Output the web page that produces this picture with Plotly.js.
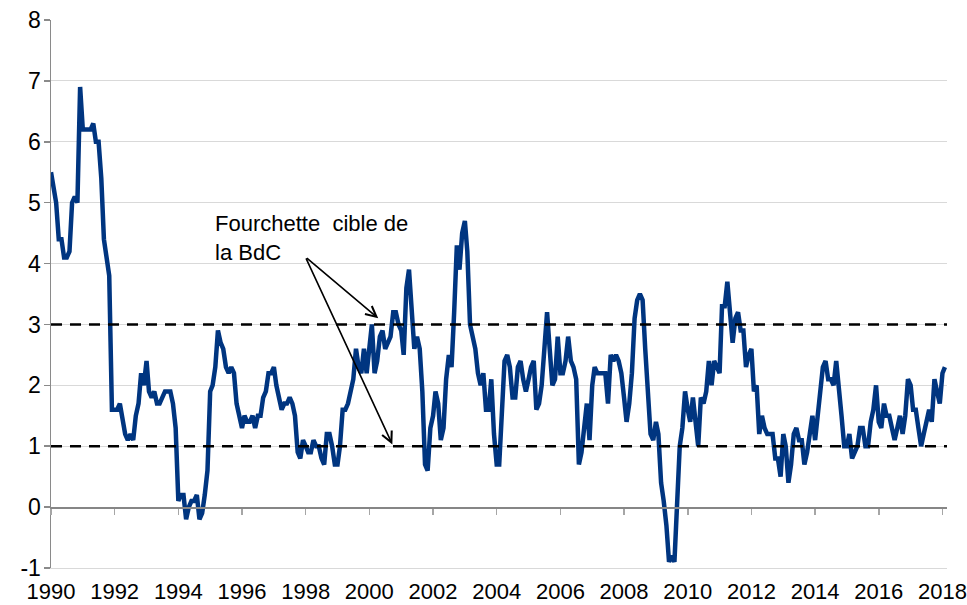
<!DOCTYPE html>
<html>
<head>
<meta charset="utf-8">
<script src="https://cdn.plot.ly/plotly-3.0.1.min.js"></script>
<style>html,body{margin:0;padding:0;background:#fff;}#chart{width:967px;height:605px;}</style>
</head>
<body>
<div id="chart"></div>
<script>
// Monthly year-over-year CPI inflation (%), first point Feb 1990, last point Mar 2018
const startYear = 1990;
const startMonth = 2;
const v1990s = [
  5.5, 5.3, 5.0, 4.4, 4.4, 4.1, 4.1, 4.2, 5.0, 5.1, 5.0,
  6.9, 6.2, 6.2, 6.2, 6.2, 6.3, 6.0, 6.0, 5.4, 4.4, 4.1, 3.8,
  1.6, 1.6, 1.6, 1.7, 1.4, 1.2, 1.1, 1.2, 1.1, 1.5, 1.7, 2.2,
  2.0, 2.4, 1.9, 1.8, 1.9, 1.7, 1.7, 1.8, 1.9, 1.9, 1.9, 1.7,
  1.3, 0.1, 0.2, 0.2, -0.2, 0.0, 0.1, 0.1, 0.2, -0.2, -0.1, 0.2,
  0.6, 1.9, 2.0, 2.3, 2.9, 2.7, 2.6, 2.3, 2.2, 2.3, 2.2, 1.7,
  1.5, 1.3, 1.5, 1.4, 1.4, 1.5, 1.3, 1.5, 1.5, 1.8, 1.9, 2.2,
  2.2, 2.3, 2.0, 1.8, 1.6, 1.7, 1.7, 1.8, 1.7, 1.5, 0.9, 0.8,
  1.1, 1.0, 0.9, 0.9, 1.1, 1.0, 1.0, 0.8, 0.7, 1.2, 1.2, 1.0,
  0.7, 0.7, 1.0, 1.6, 1.6, 1.7, 1.9, 2.1, 2.6, 2.3, 2.2, 2.6
];
const v2000s = [
  2.2, 2.7, 3.0, 2.2, 2.4, 2.8, 2.9, 2.6, 2.7, 2.8, 3.2, 3.2,
  3.0, 2.9, 2.5, 3.6, 3.9, 3.3, 2.6, 2.8, 2.6, 1.9, 0.7, 0.6,
  1.3, 1.5, 1.9, 1.7, 1.1, 1.3, 2.1, 2.5, 2.3, 3.2, 4.3, 3.9,
  4.5, 4.7, 4.2, 3.0, 2.8, 2.6, 2.2, 2.0, 2.2, 1.6, 1.6, 2.1,
  1.2, 0.7, 0.7, 1.6, 2.4, 2.5, 2.3, 1.8, 1.8, 2.3, 2.4, 2.1,
  1.9, 2.1, 2.3, 2.4, 1.6, 1.7, 2.0, 2.6, 3.2, 2.6, 2.0, 2.1,
  2.8, 2.2, 2.2, 2.4, 2.8, 2.4, 2.3, 2.1, 0.7, 0.9, 1.4, 1.7,
  1.1, 2.0, 2.3, 2.2, 2.2, 2.2, 2.2, 1.7, 2.5, 2.4, 2.5, 2.4,
  2.2, 1.8, 1.4, 1.7, 2.2, 3.1, 3.4, 3.5, 3.4, 2.6, 2.0, 1.2,
  1.1, 1.4, 1.2, 0.4, 0.1, -0.3, -0.9, -0.8, -0.9, 0.1, 1.0, 1.3
];
const v2010s = [
  1.9, 1.6, 1.4, 1.8, 1.4, 1.0, 1.8, 1.7, 1.9, 2.4, 2.0, 2.4,
  2.3, 2.2, 3.3, 3.3, 3.7, 3.1, 2.7, 3.1, 3.2, 2.9, 2.9, 2.3,
  2.5, 2.6, 1.9, 2.0, 1.2, 1.5, 1.3, 1.2, 1.2, 1.2, 0.8, 0.8,
  0.5, 1.2, 1.0, 0.4, 0.7, 1.2, 1.3, 1.1, 1.1, 0.7, 0.9, 1.2,
  1.5, 1.1, 1.5, 2.0, 2.3, 2.4, 2.1, 2.1, 2.0, 2.4, 2.0, 1.5,
  1.0, 1.0, 1.2, 0.8, 0.9, 1.0, 1.3, 1.3, 1.0, 1.0, 1.4, 1.6,
  2.0, 1.4, 1.3, 1.7, 1.5, 1.5, 1.3, 1.1, 1.3, 1.5, 1.2, 1.5,
  2.1, 2.0, 1.6, 1.6, 1.3, 1.0, 1.2, 1.4, 1.6, 1.4, 2.1, 1.9,
  1.7, 2.2, 2.3
];
const targetBand = [1, 3];
const tickYears = [1990, 1992, 1994, 1996, 1998, 2000, 2002, 2004, 2006, 2008, 2010, 2012, 2014, 2016, 2018];
const yTicks = [-1, 0, 1, 2, 3, 4, 5, 6, 7, 8];
const annotationText = 'Fourchette  cible de<br>la BdC';

const inflation = v1990s.concat(v2000s, v2010s);
const dates = inflation.map((_, i) => {
  const m = startMonth - 1 + i;
  const y = startYear + Math.floor(m / 12);
  const mm = (m % 12) + 1;
  return y + '-' + String(mm).padStart(2, '0') + '-01';
});
const tickVals = tickYears.map(y => y + '-' + String(startMonth).padStart(2, '0') + '-01');
const tickText = tickYears.map(String);
const yTickText = yTicks.map(String);
const xRange = [dates[0], '2018-03-25'];

const FONT = 'Arial, "Liberation Sans", sans-serif';

const traces = [
  {
    x: dates, y: inflation, type: 'scatter', mode: 'lines',
    line: {color: '#003580', width: 4.5}, hoverinfo: 'x+y', showlegend: false
  },
  {
    x: [dates[0], dates[dates.length - 1]], y: [targetBand[0], targetBand[0]],
    xaxis: 'x2', type: 'scatter', mode: 'lines',
    line: {width: 0}, opacity: 0, hoverinfo: 'skip', showlegend: false
  }
];

const layout = {
  width: 967, height: 605,
  margin: {l: 51, r: 20, t: 20, b: 37},
  paper_bgcolor: '#ffffff', plot_bgcolor: '#ffffff',
  font: {family: FONT, size: 22, color: '#000000'},
  showlegend: false,
  xaxis: {
    type: 'date', range: xRange,
    tickmode: 'array', tickvals: tickVals, ticktext: tickText,
    showgrid: false, zeroline: false, ticks: '',
    showline: true, linecolor: '#d9d9d9', linewidth: 1,
    tickfont: {family: FONT, size: 22, color: '#000'},
    ticklabelstandoff: 4, ticklabeloverflow: 'allow'
  },
  xaxis2: {
    type: 'date', range: xRange, overlaying: 'x', anchor: 'free', position: 1 / 9,
    side: 'bottom', tickmode: 'array', tickvals: tickVals,
    showticklabels: false, showgrid: false, zeroline: false,
    ticks: 'outside', ticklen: 6, tickwidth: 1.5, tickcolor: '#a6a6a6',
    showline: true, linecolor: '#868686', linewidth: 1.5
  },
  yaxis: {
    range: [-1, 8], tickmode: 'array', tickvals: yTicks, ticktext: yTickText,
    showgrid: true, gridcolor: '#d9d9d9', gridwidth: 1,
    zeroline: false, showline: true, linecolor: '#8a8a8a', linewidth: 1.5,
    ticks: 'outside', ticklen: 6, tickcolor: '#8a8a8a', tickwidth: 1.5,
    tickfont: {family: FONT, size: 23, color: '#000'},
    ticklabelstandoff: -2, ticklabeloverflow: 'allow'
  },
  shapes: targetBand.map(v => ({
    type: 'line', xref: 'paper', yref: 'y', x0: 0, x1: 1, y0: v, y1: v,
    line: {color: '#000000', width: 2.5, dash: '11px,8px'}, layer: 'above'
  })),
  annotations: [
    {
      x: '1995-03-07', y: 4.9, xref: 'x', yref: 'y',
      xanchor: 'left', yanchor: 'top', align: 'left',
      text: annotationText, showarrow: false,
      font: {family: FONT, size: 22, color: '#000'}
    },
    {
      x: '2000-05-13', y: 3.10, xref: 'x', yref: 'y',
      ax: '1998-01-28', ay: 4.11, axref: 'x', ayref: 'y',
      text: '', showarrow: true, arrowhead: 5, arrowsize: 1.3, arrowwidth: 1.6, arrowcolor: '#000'
    },
    {
      x: '2000-10-22', y: 1.03, xref: 'x', yref: 'y',
      ax: '1998-01-28', ay: 4.11, axref: 'x', ayref: 'y',
      text: '', showarrow: true, arrowhead: 5, arrowsize: 1.3, arrowwidth: 1.6, arrowcolor: '#000'
    }
  ]
};

Plotly.newPlot('chart', traces, layout, {staticPlot: true, displayModeBar: false});
</script>
</body>
</html>
